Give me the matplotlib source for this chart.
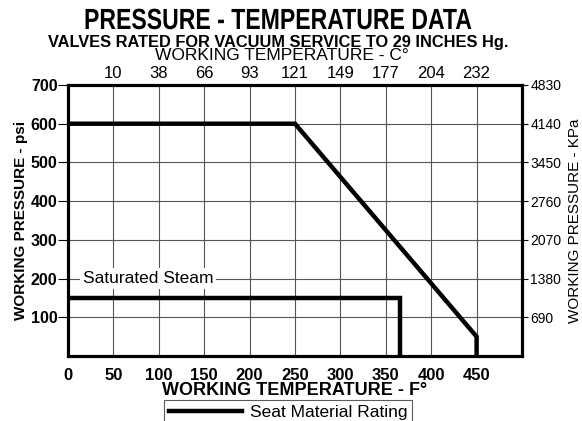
import numpy as np
import matplotlib
matplotlib.use('Agg')
import matplotlib.pyplot as plt
from matplotlib import patheffects
from matplotlib.transforms import Affine2D

plt.rcParams['font.family'] = ['Liberation Sans', 'DejaVu Sans']

# data
temp_f_ticks = [0, 50, 100, 150, 200, 250, 300, 350, 400, 450]
temp_c_ticks = [50, 100, 150, 200, 250, 300, 350, 400, 450]
temp_c_labels = ['10', '38', '66', '93', '121', '149', '177', '204', '232']
psi_ticks = [100, 200, 300, 400, 500, 600, 700]
kpa_labels = ['690', '1380', '2070', '2760', '3450', '4140', '4830']

seat_temp = [0, 250, 450, 450]
seat_psi = [600, 600, 50, 0]
steam_temp = [0, 366, 366]
steam_psi = [150, 150, 0]


class Squeeze(patheffects.AbstractPathEffect):
    # narrows text horizontally around a centre x (display px)
    def __init__(self, sx, cx):
        super().__init__()
        self.sx = sx
        self.cx = cx

    def draw_path(self, renderer, gc, tpath, affine, rgbFace=None):
        t = affine + Affine2D().translate(-self.cx, 0).scale(self.sx, 1).translate(self.cx, 0)
        renderer.draw_path(gc, tpath, t, rgbFace)


fig = plt.figure(figsize=(5.82, 4.21), dpi=100)
ax = fig.add_axes([68/582, 1-356/421, (522-68)/582, (356-85)/421])

ax.set_xlim(0, 500)
ax.set_ylim(0, 700)

# grid
for x in temp_c_ticks:
    ax.axvline(x, color='#555555', lw=0.8, zorder=1)
for y in psi_ticks[:-1]:
    ax.axhline(y, color='#555555', lw=0.8, zorder=1)

line, = ax.plot(seat_temp, seat_psi, color='black', lw=3.2, solid_joinstyle='miter',
                zorder=3, label='Seat Material Rating')
ax.plot(steam_temp, steam_psi, color='black', lw=3.2, solid_joinstyle='miter', zorder=3)

ax.text(16, 200, 'Saturated Steam', fontsize=12.5, va='center', ha='left', zorder=2,
        bbox=dict(facecolor='white', edgecolor='none', pad=2))

for s in ax.spines.values():
    s.set_linewidth(2.2)

ax.set_xticks(temp_f_ticks)
ax.set_xticklabels([str(t) for t in temp_f_ticks], fontweight='bold', fontsize=12)
ax.tick_params(axis='x', length=0, pad=9)
ax.set_yticks(psi_ticks)
ax.set_yticklabels([str(p) for p in psi_ticks], fontweight='bold', fontsize=11.5)
ax.tick_params(axis='y', length=7, width=0.8, pad=0.5)
ax.set_xlabel('WORKING TEMPERATURE - F°', fontweight='bold', fontsize=13, labelpad=-1)
ax.set_ylabel('WORKING PRESSURE - psi', fontweight='bold', fontsize=11, labelpad=2)

# top axis in Celsius
axt = ax.twiny()
axt.set_xlim(ax.get_xlim())
axt.set_xticks(temp_c_ticks)
axt.set_xticklabels(temp_c_labels, fontsize=12)
axt.tick_params(axis='x', length=0, pad=3)

# right axis in kPa
axr = ax.twinx()
axr.set_ylim(ax.get_ylim())
axr.set_yticks(psi_ticks)
axr.set_yticklabels(kpa_labels, fontsize=10)
axr.tick_params(axis='y', length=4.5, width=0.8, pad=1.5)
axr.set_ylabel('WORKING PRESSURE - KPa', fontsize=11, labelpad=5)
for a in (axt, axr):
    for s in a.spines.values():
        s.set_linewidth(2.2)

fig.text(282/582, 1-55.5/421, 'WORKING TEMPERATURE - C°', ha='center', va='center', fontsize=12.5)
title_cx = 278
fig.text(title_cx/582, 1-21/421, 'PRESSURE - TEMPERATURE DATA', ha='center', va='center',
         fontsize=21, fontweight='bold',
         path_effects=[Squeeze(0.79, title_cx)])
fig.text(278/582, 1-42/421, 'VALVES RATED FOR VACUUM SERVICE TO 29 INCHES Hg.', ha='center',
         va='center', fontsize=11.8, fontweight='bold')

leg = fig.legend(handles=[line], loc='upper center', bbox_to_anchor=(288/582, 1-400/421),
                 fontsize=12.5, frameon=True, fancybox=False, handlelength=4.2,
                 borderpad=0.3, handletextpad=0.45, borderaxespad=0)
leg.get_frame().set_edgecolor('#333333')
leg.get_frame().set_linewidth(0.8)

fig.savefig('out.png', dpi=100)
